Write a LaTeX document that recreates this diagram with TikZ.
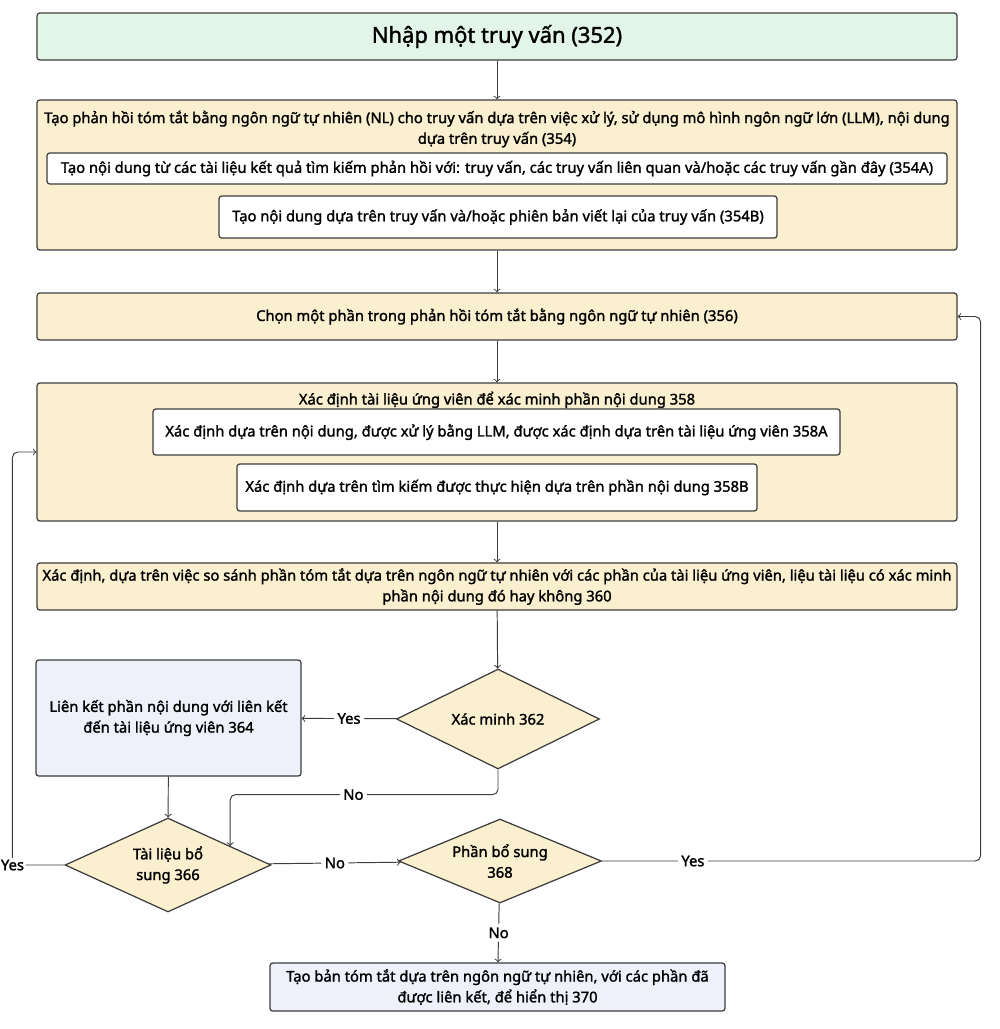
\documentclass[tikz,border=0pt]{standalone}
\usepackage{fontspec}
\setmainfont{Noto Sans}[BoldFont={Noto Sans}, BoldFeatures={FakeBold=1.6}]
\usetikzlibrary{positioning,calc,arrows,shapes.geometric}
\definecolor{qgreen}{HTML}{E3F4E9}
\definecolor{pcream}{HTML}{FAEFCF}
\definecolor{lblue}{HTML}{EEF1FA}
\definecolor{edgegray}{HTML}{3C3C3C}
\newcommand{\txt}{\fontsize{8.4}{11.8}\selectfont\bfseries}
\tikzset{
	box/.style={draw=edgegray, line width=0.7pt, rounded corners=1.5pt, align=center, font=\txt, inner sep=2pt},
	wide/.style={box, fill=pcream, minimum width=18.4cm},
	inbox/.style={box, fill=white},
	choice/.style={diamond, aspect=2.5, draw=edgegray, line width=0.7pt, fill=pcream, align=center, inner sep=0pt, font=\txt},
	flow/.style={->, >=to, draw=edgegray, line width=0.55pt, rounded corners=3pt},
	lbl/.style={fill=white, inner sep=2pt, font=\txt}
}

\begin{document}
\begin{tikzpicture}[x=0.02cm, y=-0.02cm]
	\useasboundingbox (0,0) rectangle (1000,1029);
	% main column
	\node[box, fill=qgreen, minimum width=18.4cm, minimum height=0.94cm, font=\fontsize{12.5}{14}\selectfont\bfseries] (Q) at (497,36.5) {Nhập một truy vấn (352)};
	\node[wide, minimum height=3cm] (Gen) at (497,175) {};
	\node[font=\txt, align=center, below=0.1cm of Gen.north] (GenT) {Tạo phản hồi tóm tắt bằng ngôn ngữ tự nhiên (NL) cho truy vấn dựa trên việc xử lý, sử dụng mô hình ngôn ngữ lớn (LLM), nội dung\\dựa trên truy vấn (354)};
	\node[inbox, minimum width=18cm, minimum height=0.62cm] (GenA) at (497,168.5) {Tạo nội dung từ các tài liệu kết quả tìm kiếm phản hồi với: truy vấn, các truy vấn liên quan và/hoặc các truy vấn gần đây (354A)};
	\node[inbox, minimum width=11.16cm, minimum height=0.84cm] (GenB) at (498,217) {Tạo nội dung dựa trên truy vấn và/hoặc phiên bản viết lại của truy vấn (354B)};
	\node[wide, minimum height=0.94cm] (Sel) at (497,316.5) {Chọn một phần trong phản hồi tóm tắt bằng ngôn ngữ tự nhiên (356)};
	\node[wide, minimum height=2.76cm] (Cand) at (497,452) {};
	\node[font=\txt, below=0.06cm of Cand.north] (CandT) {Xác định tài liệu ứng viên để xác minh phần nội dung 358};
	\node[inbox, minimum width=13.74cm, minimum height=0.92cm] (CandA) at (496.5,432) {Xác định dựa trên nội dung, được xử lý bằng LLM, được xác định dựa trên tài liệu ứng viên 358A};
	\node[inbox, minimum width=10.4cm, minimum height=0.94cm] (CandB) at (497,487.5) {Xác định dựa trên tìm kiếm được thực hiện dựa trên phần nội dung 358B};
	\node[wide, minimum height=0.94cm] (Cmp) at (497,586.5) {Xác định, dựa trên việc so sánh phần tóm tắt dựa trên ngôn ngữ tự nhiên với các phần của tài liệu ứng viên, liệu tài liệu có xác minh\\phần nội dung đó hay không 360};
	% decisions
	\node[choice, minimum width=4.06cm, minimum height=2cm] (Ver) at (498,719) {Xác minh 362};
	\node[box, fill=lblue, minimum width=5.3cm, minimum height=2.32cm] (Link) at (168.5,718) {Liên kết phần nội dung với liên kết\\đến tài liệu ứng viên 364};
	\node[choice, minimum width=4.12cm, minimum height=1.88cm] (Doc) at (168,865) {Tài liệu bổ\\sung 366};
	\node[choice, minimum width=4.06cm, minimum height=1.68cm] (Part) at (500,861) {Phần bổ sung\\368};
	\node[box, fill=lblue, minimum width=9.1cm, minimum height=0.96cm] (Out) at (497.5,987) {Tạo bản tóm tắt dựa trên ngôn ngữ tự nhiên, với các phần đã\\được liên kết, để hiển thị 370};
	% connectors
	\draw[flow] (Q) -- (Gen);
	\draw[flow] (Gen) -- (Sel);
	\draw[flow] (Sel) -- (Cand);
	\draw[flow] (Cand) -- (Cmp);
	\draw[flow] (Cmp) -- (Ver);
	\draw[flow] (Ver) -- node[lbl] {Yes} (Link);
	\draw[flow] (Ver.south) -- ++(0,25) -| node[lbl, pos=0.27] {No} (Doc.17);
	\draw[flow] (Link) -- (Doc);
	\draw[flow] (Doc) -- node[lbl] {No} (Part);
	\draw[flow] (Part) -- node[lbl] {No} (Out);
	\draw[flow] (Part.east) -| node[lbl, pos=0.12] {Yes} ($(Sel.east)+(0.46cm,0)$) -- (Sel.east);
	\draw[flow] (Doc.west) -| node[lbl, pos=0.5, inner sep=1pt] {Yes} ($(Cand.west)+(-0.48cm,0)$) -- (Cand.west);
\end{tikzpicture}
\end{document}
